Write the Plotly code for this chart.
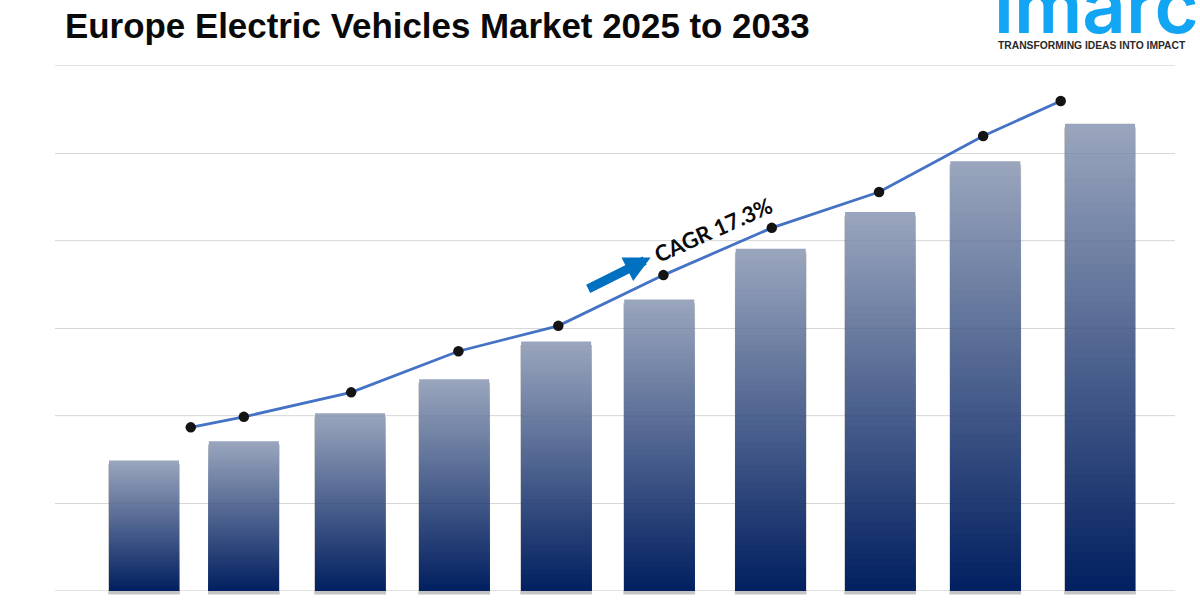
import plotly.graph_objects as go

title = 'Europe Electric Vehicles Market 2025 to 2033'
tagline = 'TRANSFORMING IDEAS INTO IMPACT'
cagr = 'CAGR 17.3%'

bar_years = [2024.0, 2024.94, 2025.94, 2026.92, 2027.88, 2028.85, 2029.9, 2030.93, 2031.92, 2033.0]
bar_values = [1.49, 1.71, 2.03, 2.42, 2.85, 3.33, 3.91, 4.33, 4.91, 5.34]

line_years = [2024.44, 2024.94, 2025.95, 2026.96, 2027.9, 2028.89, 2029.91, 2030.92, 2031.9, 2032.63]
line_values = [1.87, 1.99, 2.27, 2.74, 3.03, 3.61, 4.15, 4.56, 5.2, 5.6]

fig = go.Figure()

# soft shadow under the bars
fig.add_trace(go.Bar(
    x=bar_years, y=bar_values, base=-0.04, width=0.675,
    marker=dict(color='rgba(60,60,60,0.3)', line_width=0),
    hoverinfo='skip', showlegend=False))

# plotly bars have no gradient fill, so overlay shorter and darker copies
steps = 60
top = (153, 165, 189)
bottom = (0, 30, 95)
for k in range(steps, 0, -1):
    t = k / steps
    rgb = [round(b + (a - b) * t) for a, b in zip(top, bottom)]
    fig.add_trace(go.Bar(
        x=bar_years, y=[v * t for v in bar_values], width=0.659,
        marker=dict(color=f'rgb({rgb[0]},{rgb[1]},{rgb[2]})', line_width=0),
        hoverinfo='skip', showlegend=False))

fig.add_trace(go.Scatter(
    x=line_years, y=line_values, mode='lines+markers',
    line=dict(color='#4472c4', width=2.8),
    marker=dict(color='#141414', size=10.5),
    showlegend=False))

# gridlines show faintly through the bars
for g in range(1, 6):
    fig.add_hline(y=g, line=dict(color='rgba(0,0,0,0.05)', width=1), layer='above')

fig.add_annotation(
    xref='paper', yref='paper', x=0.007, y=0.957, xanchor='left', yanchor='middle',
    text=f'<b>{title}</b>', showarrow=False,
    font=dict(family='Liberation Sans', size=34.9, color='#0a0a0a'))

fig.add_annotation(
    x=2028.77, y=3.81, ax=-64, ay=32, text='', showarrow=True,
    arrowhead=2, arrowsize=0.58, arrowwidth=9, arrowcolor='#0070c0')

fig.add_annotation(
    x=2029.36, y=4.13, text=cagr, showarrow=False, textangle=-24,
    font=dict(family='Lato', size=22, color='#0a0a0a', weight=700))

# logo
fig.add_annotation(
    xref='paper', yref='paper', x=0.8367, y=0.992, xanchor='left', yanchor='middle',
    text='imarc', showarrow=False,
    font=dict(family='Inter', size=76, color='#12a5f4', weight=600))
fig.add_annotation(
    xref='paper', yref='paper', x=0.8402, y=0.9235, xanchor='left', yanchor='middle',
    text=f'<b>{tagline}</b>', showarrow=False,
    font=dict(family='Liberation Sans', size=10.3, color='#2a2a2a'))

fig.update_layout(
    width=1200, height=600,
    margin=dict(l=55, r=25, t=0, b=0, autoexpand=False),
    paper_bgcolor='white', plot_bgcolor='white',
    barmode='overlay',
    xaxis=dict(range=[2023.162, 2033.706], showgrid=False, zeroline=False,
               showticklabels=False, ticks=''),
    yaxis=dict(range=[-0.103, 6.754], dtick=1, tick0=0, gridcolor='#e2e2e2', gridwidth=1,
               zeroline=True, zerolinecolor='#e2e2e2', zerolinewidth=1,
               showticklabels=False, ticks=''))

# the page's default body margin would push the fixed-size figure off by 8px
fig.write_html('out.html', config={'displayModeBar': False},
               post_script="document.body.style.margin='0';")
